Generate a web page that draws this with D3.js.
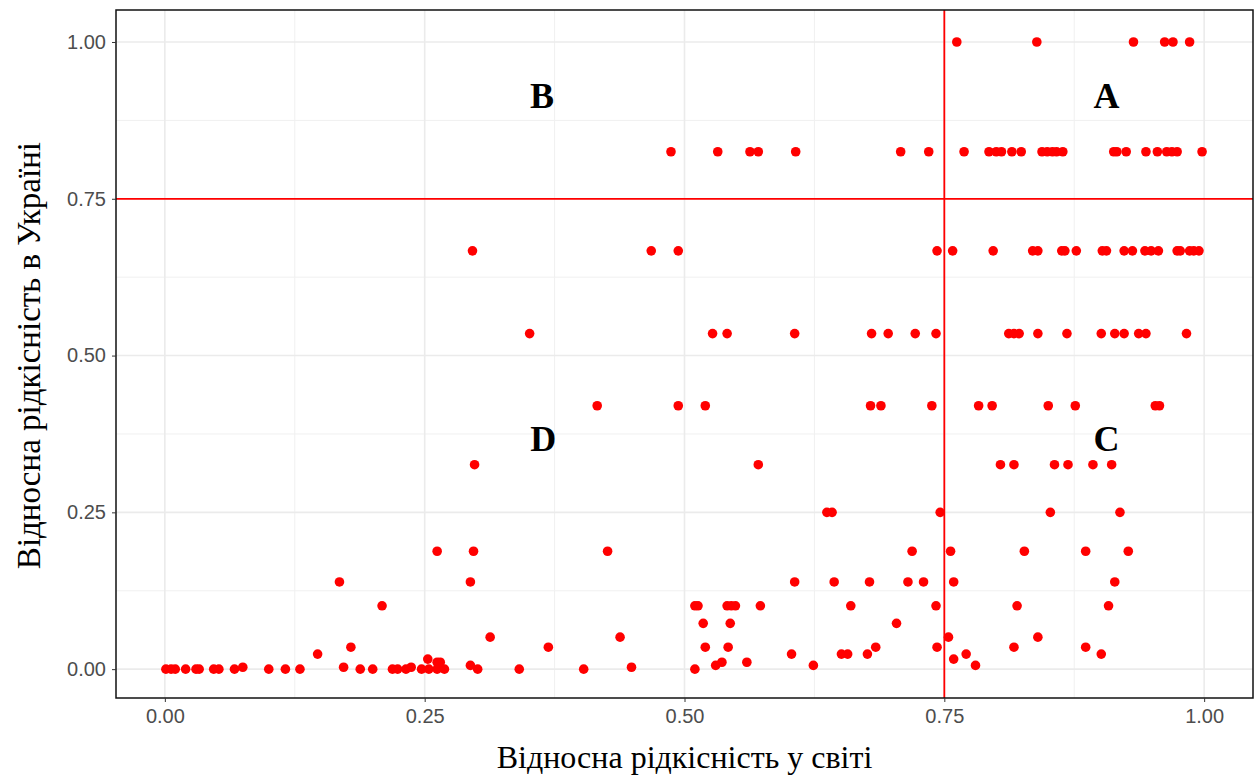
<!doctype html>
<html lang="uk">
<head>
<meta charset="utf-8">
<title>Відносна рідкісність</title>
<script src="https://d3js.org/d3.v7.min.js"></script>
<style>
  body { margin: 0; background: #fff; }
  .tick text { font-family: "Liberation Sans", Arial, sans-serif; font-size: 20px; fill: #4d4d4d; }
  .tick line { stroke: #333; }
</style>
</head>
<body>
<div id="chart"></div>
<script>
// rarity level in Ukraine (y) and world rarity (x) of the points on each level
var uaLevels = [1.0, 0.825, 0.667, 0.535, 0.42, 0.326, 0.25, 0.188, 0.139, 0.101,
                0.073, 0.051, 0.035, 0.024, 0.016, 0.011, 0.006, 0.003, 0.0];

var worldByLevel = [
  [0.762, 0.839, 0.932, 0.962, 0.970, 0.986],
  [0.487, 0.532, 0.563, 0.571, 0.607, 0.708, 0.735, 0.769, 0.793, 0.800, 0.805, 0.815, 0.824,
   0.844, 0.849, 0.854, 0.858, 0.864, 0.913, 0.916, 0.925, 0.944, 0.955, 0.964, 0.969, 0.974, 0.998],
  [0.296, 0.468, 0.494, 0.743, 0.758, 0.797, 0.835, 0.840, 0.863, 0.866, 0.877, 0.902, 0.906,
   0.923, 0.931, 0.943, 0.949, 0.956, 0.974, 0.977, 0.986, 0.990, 0.995],
  [0.351, 0.527, 0.541, 0.606, 0.680, 0.696, 0.722, 0.742, 0.812, 0.817, 0.822, 0.840, 0.868,
   0.901, 0.914, 0.923, 0.937, 0.944, 0.983],
  [0.416, 0.494, 0.520, 0.679, 0.689, 0.738, 0.783, 0.796, 0.850, 0.876, 0.953, 0.957],
  [0.298, 0.571, 0.804, 0.817, 0.856, 0.869, 0.893, 0.911],
  [0.637, 0.642, 0.746, 0.852, 0.919],
  [0.262, 0.297, 0.426, 0.719, 0.756, 0.827, 0.886, 0.927],
  [0.168, 0.294, 0.606, 0.644, 0.678, 0.715, 0.730, 0.759, 0.914],
  [0.209, 0.510, 0.513, 0.541, 0.545, 0.549, 0.573, 0.660, 0.742, 0.820, 0.908],
  [0.518, 0.544, 0.704],
  [0.313, 0.438, 0.754, 0.840],
  [0.179, 0.369, 0.520, 0.542, 0.684, 0.743, 0.817, 0.886],
  [0.147, 0.603, 0.651, 0.657, 0.676, 0.771, 0.901],
  [0.253, 0.759],
  [0.262, 0.265, 0.536, 0.560],
  [0.294, 0.530, 0.624, 0.780],
  [0.075, 0.172, 0.237, 0.449],
  [0.001, 0.006, 0.010, 0.020, 0.030, 0.033, 0.047, 0.052, 0.067, 0.100, 0.116, 0.130, 0.188,
   0.200, 0.219, 0.224, 0.232, 0.247, 0.254, 0.262, 0.269, 0.301, 0.341, 0.403, 0.510]
];

var tickValues = [0, 0.25, 0.5, 0.75, 1];
var minorValues = [0.125, 0.375, 0.625, 0.875];
var threshold = 0.75;

var quadLabels = [
  {label: "A", x: 0.906, y: 0.915},
  {label: "B", x: 0.363, y: 0.915},
  {label: "C", x: 0.906, y: 0.368},
  {label: "D", x: 0.364, y: 0.368}
];

var xTitle = "Відносна рідкісність у світі";
var yTitle = "Відносна рідкісність в Україні";

var points = [];
uaLevels.forEach(function(lv, i) {
  worldByLevel[i].forEach(function(w) { points.push({x: w, y: lv}); });
});

var W = 1254, H = 777;
var panel = {left: 116, right: 1253, top: 10, bottom: 698};

var svg = d3.select('#chart').append('svg')
  .attr('width', W)
  .attr('height', H);

var x = d3.scaleLinear()
  .domain([-0.047, 1.047])
  .range([panel.left, panel.right]);

var y = d3.scaleLinear()
  .domain([-0.046, 1.051])
  .range([panel.bottom, panel.top]);

// grid
var grid = svg.append('g');
grid.selectAll('.vmin').data(minorValues).enter().append('line')
  .attr('x1', d => x(d)).attr('x2', d => x(d))
  .attr('y1', panel.top).attr('y2', panel.bottom)
  .style('stroke', '#f0f0f0').style('stroke-width', 1);
grid.selectAll('.hmin').data(minorValues).enter().append('line')
  .attr('y1', d => y(d)).attr('y2', d => y(d))
  .attr('x1', panel.left).attr('x2', panel.right)
  .style('stroke', '#f0f0f0').style('stroke-width', 1);
grid.selectAll('.vmaj').data(tickValues).enter().append('line')
  .attr('x1', d => x(d)).attr('x2', d => x(d))
  .attr('y1', panel.top).attr('y2', panel.bottom)
  .style('stroke', '#ebebeb').style('stroke-width', 1.6);
grid.selectAll('.hmaj').data(tickValues).enter().append('line')
  .attr('y1', d => y(d)).attr('y2', d => y(d))
  .attr('x1', panel.left).attr('x2', panel.right)
  .style('stroke', '#ebebeb').style('stroke-width', 1.6);

// points
svg.selectAll('.dot')
  .data(points)
  .enter().append('circle')
  .attr('class', 'dot')
  .attr('cx', d => x(d.x))
  .attr('cy', d => y(d.y))
  .attr('r', 4.8)
  .style('fill', 'red');

// threshold lines
svg.append('line')
  .attr('x1', x(threshold)).attr('x2', x(threshold))
  .attr('y1', panel.top).attr('y2', panel.bottom)
  .style('stroke', 'red').style('stroke-width', 1.8);
svg.append('line')
  .attr('x1', panel.left).attr('x2', panel.right)
  .attr('y1', y(threshold)).attr('y2', y(threshold))
  .style('stroke', 'red').style('stroke-width', 1.8);

// quadrant labels
svg.selectAll('.quad')
  .data(quadLabels)
  .enter().append('text')
  .attr('x', d => x(d.x))
  .attr('y', d => y(d.y))
  .attr('dy', '0.36em')
  .style('text-anchor', 'middle')
  .style('font-family', '"Liberation Serif", "Times New Roman", serif')
  .style('font-weight', 'bold')
  .style('font-size', '36px')
  .text(d => d.label);

// panel border
svg.append('rect')
  .attr('x', panel.left).attr('y', panel.top)
  .attr('width', panel.right - panel.left)
  .attr('height', panel.bottom - panel.top)
  .style('fill', 'none').style('stroke', '#111').style('stroke-width', 1.5);

// axes
var xAxis = d3.axisBottom(x).tickValues(tickValues).tickFormat(d3.format('.2f')).tickSize(4).tickPadding(7);
var yAxis = d3.axisLeft(y).tickValues(tickValues).tickFormat(d3.format('.2f')).tickSize(4).tickPadding(6);

svg.append('g')
  .attr('transform', 'translate(0,' + panel.bottom + ')')
  .call(xAxis)
  .call(g => g.select('.domain').remove());

svg.append('g')
  .attr('transform', 'translate(' + panel.left + ',0)')
  .call(yAxis)
  .call(g => g.select('.domain').remove());

// axis titles
svg.append('text')
  .attr('x', (x(0) + x(1)) / 2)
  .attr('y', 768)
  .style('text-anchor', 'middle')
  .style('font-family', '"Liberation Serif", "Times New Roman", serif')
  .style('font-size', '32px')
  .text(xTitle);

svg.append('text')
  .attr('transform', 'translate(40,' + ((y(0) + y(1)) / 2) + ') rotate(-90)')
  .style('text-anchor', 'middle')
  .style('font-family', '"Liberation Serif", "Times New Roman", serif')
  .style('font-size', '33px')
  .text(yTitle);
</script>
</body>
</html>
